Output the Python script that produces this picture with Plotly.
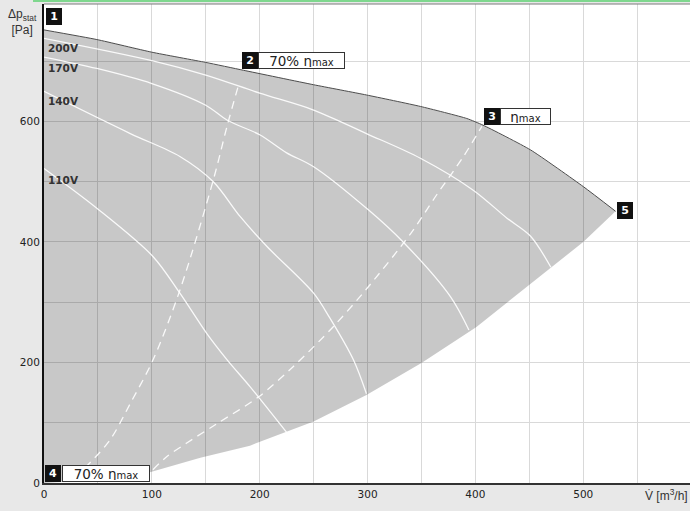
import plotly.graph_objects as go

# ---- data ----
top_x = [0, 49, 100, 150, 185, 250, 299, 349, 392, 407, 451, 500, 530]
top_y = [752, 736, 715, 698, 685, 661, 644, 625, 605, 594, 553, 492, 451]

bottom_x = [0, 40, 95, 145, 191, 250, 299, 350, 401, 451, 500, 530]
bottom_y = [0, 4, 16, 42, 62, 102, 146, 199, 259, 330, 400, 451]

v200_x = [0, 100, 150, 200, 250, 299, 349, 398, 429, 451, 470]
v200_y = [738, 701, 677, 647, 619, 580, 539, 486, 440, 410, 358]

v170_x = [0, 49, 100, 150, 170, 200, 225, 250, 301, 333, 377, 394]
v170_y = [707, 688, 663, 627, 602, 578, 548, 525, 453, 400, 309, 254]

v140_x = [0, 80, 126, 157, 182, 207, 250, 265, 287, 299]
v140_y = [650, 580, 542, 500, 442, 392, 315, 274, 204, 148]

v110_x = [0, 49, 101, 126, 151, 170, 191, 225]
v110_y = [522, 456, 376, 315, 248, 204, 160, 84]

eta70_x = [38, 61, 80, 101, 126, 157, 170, 180]
eta70_y = [25, 71, 132, 204, 320, 503, 594, 658]

etamax_x = [101, 114, 132, 160, 199, 231, 268, 299, 340, 364, 389, 406]
etamax_y = [22, 44, 66, 98, 143, 193, 259, 322, 414, 478, 542, 592]

volt_labels = ["200V", "170V", "140V", "110V"]
volt_label_y = [722, 689, 634, 503]

x_ticks = [0, 100, 200, 300, 400, 500]
y_ticks = [0, 200, 400, 600]

# ---- figure ----
fig = go.Figure()

fig.add_trace(go.Scatter(
    x=top_x + bottom_x[::-1], y=top_y + bottom_y[::-1],
    mode="lines", fill="toself", fillcolor="rgba(0,0,0,0.215)",
    line=dict(width=0), hoverinfo="skip"))

fig.add_trace(go.Scatter(x=top_x, y=top_y, mode="lines",
                         line=dict(color="#4c4c4c", width=1, shape="spline", smoothing=0.5),
                         hoverinfo="skip"))

for xs, ys in [(v200_x, v200_y), (v170_x, v170_y), (v140_x, v140_y), (v110_x, v110_y)]:
    fig.add_trace(go.Scatter(x=xs, y=ys, mode="lines",
                             line=dict(color="rgba(255,255,255,0.9)", width=1.3,
                                       shape="spline", smoothing=0.9),
                             hoverinfo="skip"))

for xs, ys in [(eta70_x, eta70_y), (etamax_x, etamax_y)]:
    fig.add_trace(go.Scatter(x=xs, y=ys, mode="lines",
                             line=dict(color="rgba(255,255,255,0.9)", width=1.3,
                                       dash="8px,6px", shape="spline", smoothing=0.9),
                             hoverinfo="skip"))

FONT = "DejaVu Sans"
ann = []

for t, yv in zip(volt_labels, volt_label_y):
    ann.append(dict(x=2, y=yv, xref="x", yref="y", text="<b>" + t + "</b>",
                    showarrow=False, xanchor="left", yanchor="middle",
                    font=dict(family=FONT, size=10.5, color="#333333")))


def black_box(num, x, y, xanchor, yanchor):
    return dict(x=x, y=y, xref="x", yref="y", text="<b>" + num + "</b>",
                showarrow=False, xanchor=xanchor, yanchor=yanchor,
                bgcolor="#111111", bordercolor="#111111", borderwidth=1, borderpad=1,
                width=12, height=13,
                font=dict(family=FONT, size=11, color="white"))


def white_box(text, x, y, w, yanchor):
    return dict(x=x, y=y, xref="x", yref="y", text=text,
                showarrow=False, xanchor="left", yanchor=yanchor,
                bgcolor="white", bordercolor="#333333", borderwidth=1, borderpad=1,
                width=w, height=13,
                font=dict(family=FONT, size=13.5, color="#222222"))


eta = "η<span style='font-size:10px'>max</span>"

ann.append(black_box("1", 2, 788, "left", "top"))
ann.append(black_box("2", 198.5, 702, "right", "middle"))
ann.append(white_box("70% " + eta, 198.5, 702, 83, "middle"))
ann.append(black_box("3", 423, 609, "right", "middle"))
ann.append(white_box(eta, 423, 609, 47, "middle"))
ann.append(black_box("4", 1, 1, "left", "bottom"))
ann.append(white_box("70% " + eta, 16.5, 1, 84, "bottom"))
ann.append(black_box("5", 531, 453, "left", "middle"))

ann.append(dict(x=-0.034, y=0.997, xref="paper", yref="paper",
                text="Δp<sub>stat</sub><br>[Pa]", showarrow=False,
                xanchor="center", yanchor="top", align="center",
                font=dict(family="Liberation Sans", size=12, color="#333333")))
ann.append(dict(x=1.0, y=-0.025, xref="paper", yref="paper",
                text="V\u0307 [m<sup>3</sup>/h]", showarrow=False,
                xanchor="right", yanchor="middle",
                font=dict(family="Liberation Sans", size=12, color="#333333")))

shapes = [
    dict(type="line", xref="paper", yref="paper", x0=0, x1=1, y0=1, y1=1,
         line=dict(color="#7a7a7a", width=1)),
    dict(type="line", xref="paper", yref="paper", x0=-0.017, x1=1, y0=1.0065, y1=1.0065,
         line=dict(color="#7fd78e", width=2)),
]

fig.update_layout(
    width=690, height=511,
    margin=dict(l=44, r=0, t=4, b=28),
    paper_bgcolor="#e8e8e8", plot_bgcolor="white",
    showlegend=False,
    annotations=ann, shapes=shapes,
    xaxis=dict(range=[0, 599], tickvals=x_ticks, ticktext=[str(v) for v in x_ticks],
               showgrid=True, gridcolor="#d9d9d9", gridwidth=1,
               minor=dict(dtick=50, tick0=0, showgrid=True, gridcolor="#d9d9d9"),
               showline=True, linecolor="#333333", linewidth=2,
               zeroline=False, ticks="",
               tickfont=dict(family=FONT, size=10.5, color="#222222")),
    yaxis=dict(range=[0, 795], tickvals=y_ticks, ticktext=[str(v) for v in y_ticks],
               showgrid=True, gridcolor="#d9d9d9", gridwidth=1,
               minor=dict(dtick=100, tick0=0, showgrid=True, gridcolor="#d9d9d9"),
               showline=True, linecolor="#111111", linewidth=2,
               zeroline=False, ticks="",
               tickfont=dict(family=FONT, size=10.5, color="#222222")),
)

fig.write_html("out.html", config={"displayModeBar": False},
               post_script="document.body.style.margin='0';document.body.style.overflow='hidden';")
